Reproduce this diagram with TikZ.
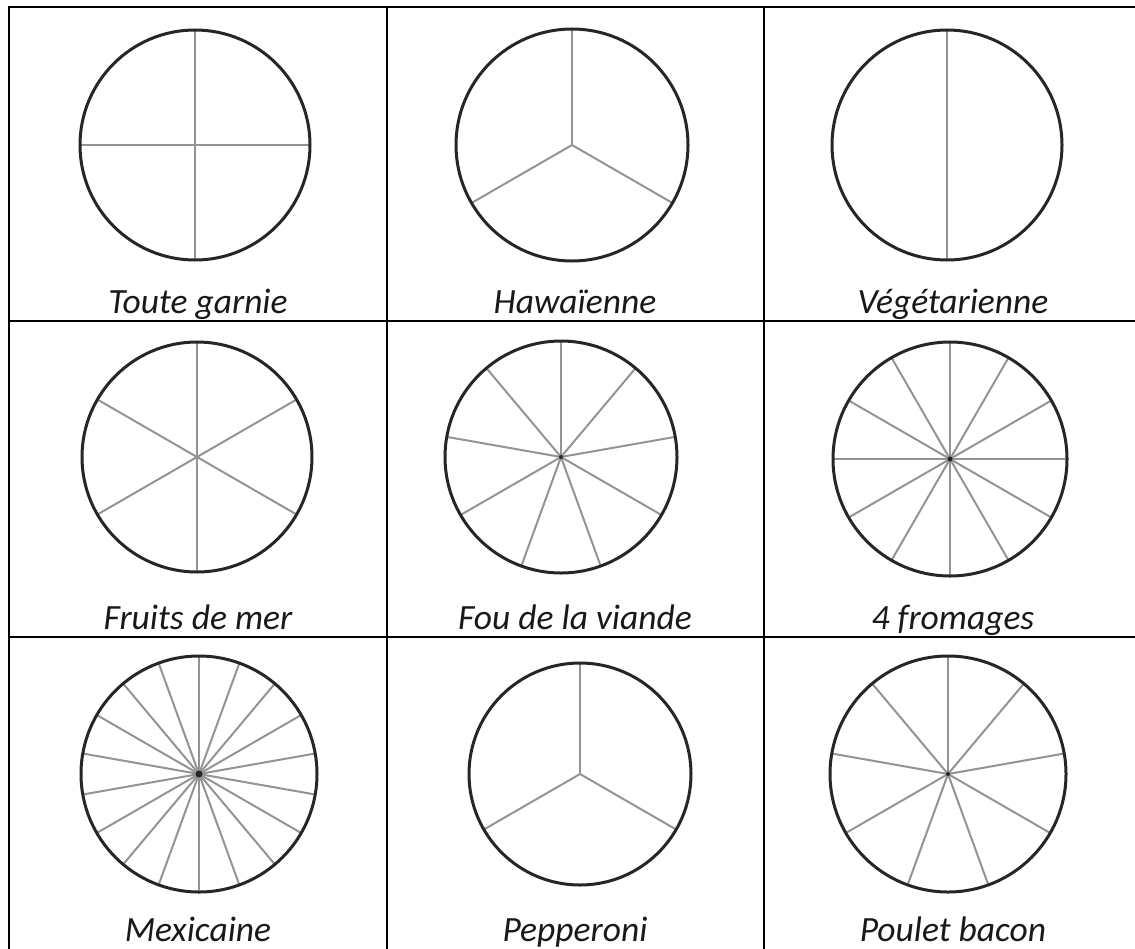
\documentclass[tikz,border=0pt]{standalone}
\usepackage{fontspec}
\setmainfont{Carlito}
\tikzset{
  gridline/.style={draw=black, line width=2.2pt},
  pizzarim/.style={draw=black!85, line width=3pt},
  spoke/.style={draw=black!42, line width=2pt},
  hub/.style={fill=black!85},
  pizzalabel/.style={font=\fontsize{35.5}{42}\selectfont\itshape, text=black!90, anchor=base, inner sep=0pt}
}
\newcommand{\pizzadraw}[6]{% name, cx, cy, r, n, hub radius
  \coordinate (#1) at (#2,#3);
  \pgfmathsetmacro{\pzstep}{360/#5}
  \foreach \k in {1,...,#5}{
    \draw[spoke] (#1) -- ++({-90-(\k-1)*\pzstep}:#4);
  }
  \ifdim #6pt>0pt \fill[hub] (#1) circle (#6); \fi
  \draw[pizzarim] (#1) circle (#4);
}
\begin{document}
\begin{tikzpicture}[x=1pt,y=-1pt]
\useasboundingbox (0,0) rectangle (1135,948);
\fill[white] (0,0) rectangle (1135,948);
% grid
\coordinate (tl) at (9,7);
\coordinate (tr) at (1140,7);
\coordinate (bl) at (9,950);
\draw[gridline] (bl) -- (tl) -- (tr);
\coordinate (v1t) at (387,7); \coordinate (v1b) at (387,950);
\coordinate (v2t) at (764,7); \coordinate (v2b) at (764,950);
\coordinate (h1l) at (9,321); \coordinate (h1r) at (1140,321);
\coordinate (h2l) at (9,637); \coordinate (h2r) at (1140,637);
\draw[gridline] (v1t) -- (v1b);
\draw[gridline] (v2t) -- (v2b);
\draw[gridline] (h1l) -- (h1r);
\draw[gridline] (h2l) -- (h2r);
% pizzas
\pizzadraw{p11}{195}{145}{115}{4}{0}
\pizzadraw{p12}{572}{145}{116}{3}{0}
\pizzadraw{p13}{947}{145}{115}{2}{0}
\pizzadraw{p21}{197}{457}{115}{6}{0}
\pizzadraw{p22}{561}{457}{116}{9}{2}
\pizzadraw{p23}{950}{459}{117}{12}{2.5}
\pizzadraw{p31}{199}{774}{118}{18}{3.5}
\pizzadraw{p32}{580}{774}{111}{3}{0}
\pizzadraw{p33}{948}{774}{118}{9}{2}
% labels
\node[pizzalabel] (l11) at (198,313) {Toute garnie};
\node[pizzalabel] (l12) at (575,313) {Hawaïenne};
\node[pizzalabel] (l13) at (953,313) {Végétarienne};
\node[pizzalabel] (l21) at (198,629) {Fruits de mer};
\node[pizzalabel] (l22) at (575,629) {Fou de la viande};
\node[pizzalabel] (l23) at (953,629) {4 fromages};
\node[pizzalabel] (l31) at (198,941) {Mexicaine};
\node[pizzalabel] (l32) at (575,941) {Pepperoni};
\node[pizzalabel] (l33) at (953,941) {Poulet bacon};
\end{tikzpicture}
\end{document}
